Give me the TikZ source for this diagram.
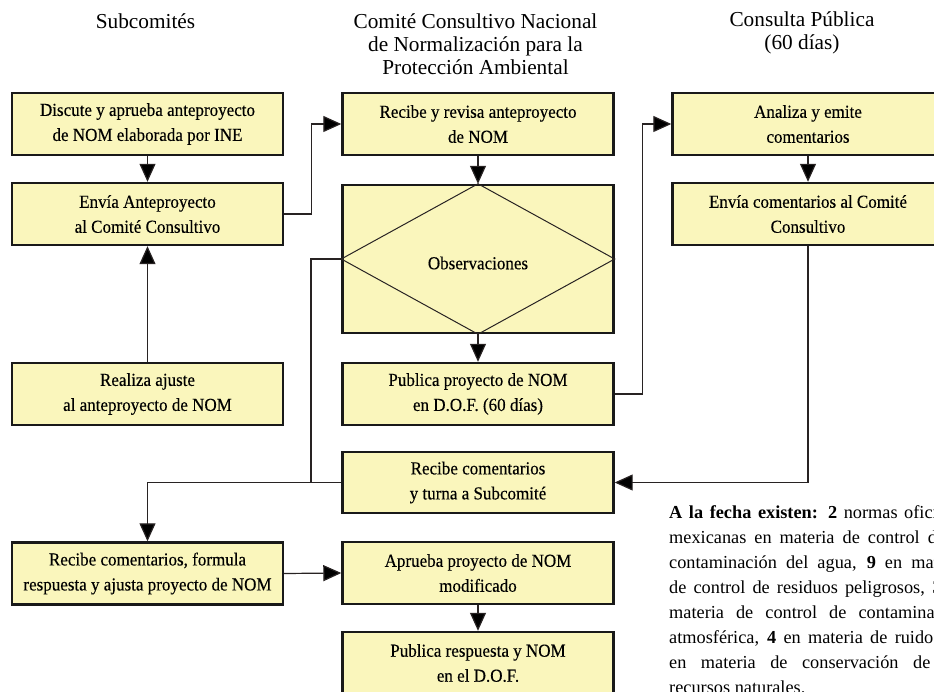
\documentclass[tikz,border=0pt]{standalone}
\usepackage{fontspec}
\setmainfont{Liberation Serif}
\newfontfamily\boxfont[FakeStretch=0.93,FakeBold=0.3]{Liberation Serif}
\usetikzlibrary{arrows.meta}
\definecolor{boxfill}{RGB}{250,246,188}
\definecolor{linec}{RGB}{40,35,35}
\begin{document}
\begin{tikzpicture}[x=1pt,y=-1pt,
 box/.style={draw=black!90, line width=2.4pt, fill=boxfill, minimum width=271pt, minimum height=62pt, align=center, font=\boxfont\fontsize{18.3}{25}\selectfont, inner sep=0pt},
 conn/.style={draw=linec, line width=1.2pt},
 arr/.style={conn, -{Triangle[length=18pt,width=16pt,fill=black]}},
 head/.style={align=center, font=\fontsize{21.3}{23}\selectfont}]
\useasboundingbox (0,0) rectangle (934,692);
\clip (0,0) rectangle (934,692);
\fill[white] (0,0) rectangle (934,692);

\node[head] (h1) at (145.5,21) {Subcomités};
\node[head] (h2) at (475.5,44) {Comité Consultivo Nacional\\de Normalización para la\\Protección Ambiental};
\node[head] (h3) at (802,33) {Consulta Pública\\(60 días)};

\node[box] (b1) at (147.5,124) {Discute y aprueba anteproyecto\\de NOM elaborada por INE};
\node[box] (b2) at (147.5,214) {Envía Anteproyecto\\al Comité Consultivo};
\node[box] (b3) at (147.5,394) {Realiza ajuste\\al anteproyecto de NOM};
\node[box] (b4) at (147.5,573.5) {Recibe comentarios, formula\\respuesta y ajusta proyecto de NOM};
\node[box] (m1) at (478,124) {Recibe y revisa anteproyecto\\de NOM};
\node[box, minimum height=148pt] (obs) at (478,259) {};
\draw[line width=1pt, draw=linec] (obs.north) -- (obs.east) -- (obs.south) -- (obs.west) -- cycle;
\node[font=\boxfont\fontsize{18.3}{25}\selectfont] (obst) at (478,263) {Observaciones};
\node[box] (pub) at (478,394) {Publica proyecto de NOM\\en D.O.F. (60 días)};
\node[box, minimum height=61pt] (rec) at (478,482.5) {Recibe comentarios\\y turna a Subcomité};
\node[box] (apr) at (478,573) {Aprueba proyecto de NOM\\modificado};
\node[box] (pubr) at (478,663) {Publica respuesta y NOM\\en el D.O.F.};
\node[box] (r1) at (808,124) {Analiza y emite\\comentarios};
\node[box] (r2) at (808,214) {Envía comentarios al Comité\\Consultivo};

\coordinate (jn) at (311,482.5);
\draw[arr] (b1.south) -- (b2.north);
\draw[arr] (b3.north) -- (b2.south);
\draw[arr] (b2.east) -- ++(27.5,0) |- (m1.west);
\draw[arr] (m1.south) -- (obs.north);
\draw[arr] (obs.south) -- (pub.north);
\draw[conn] (obs.west) -| (jn);
\draw[arr] (rec.west) -| (b4.north);
\draw[arr] (pub.east) -- ++(28,0) |- (r1.west);
\draw[arr] (r1.south) -- (r2.north);
\draw[arr] (r2.south) |- (rec.east);
\draw[arr] (b4.east) -- (apr.west);
\draw[arr] (apr.south) -- (pubr.north);

\node[anchor=north west, text width=297pt, align=justify, inner sep=0pt,
  font=\fontsize{18.3}{25}\selectfont] (txt) at (669,505)
 {\hyphenpenalty=10000\tolerance=10000
  \textbf{A la fecha existen: 2} normas oficiales\linebreak
  mexicanas en materia de control de la\linebreak
  contaminación del agua, \textbf{9} en materia\linebreak
  de control de residuos peligrosos, \textbf{3} en\linebreak
  materia de control de contaminación\linebreak
  atmosférica, \textbf{4} en materia de ruido y \textbf{1}\linebreak
  en materia de conservación de los\linebreak
  recursos naturales.};
\end{tikzpicture}
\end{document}
